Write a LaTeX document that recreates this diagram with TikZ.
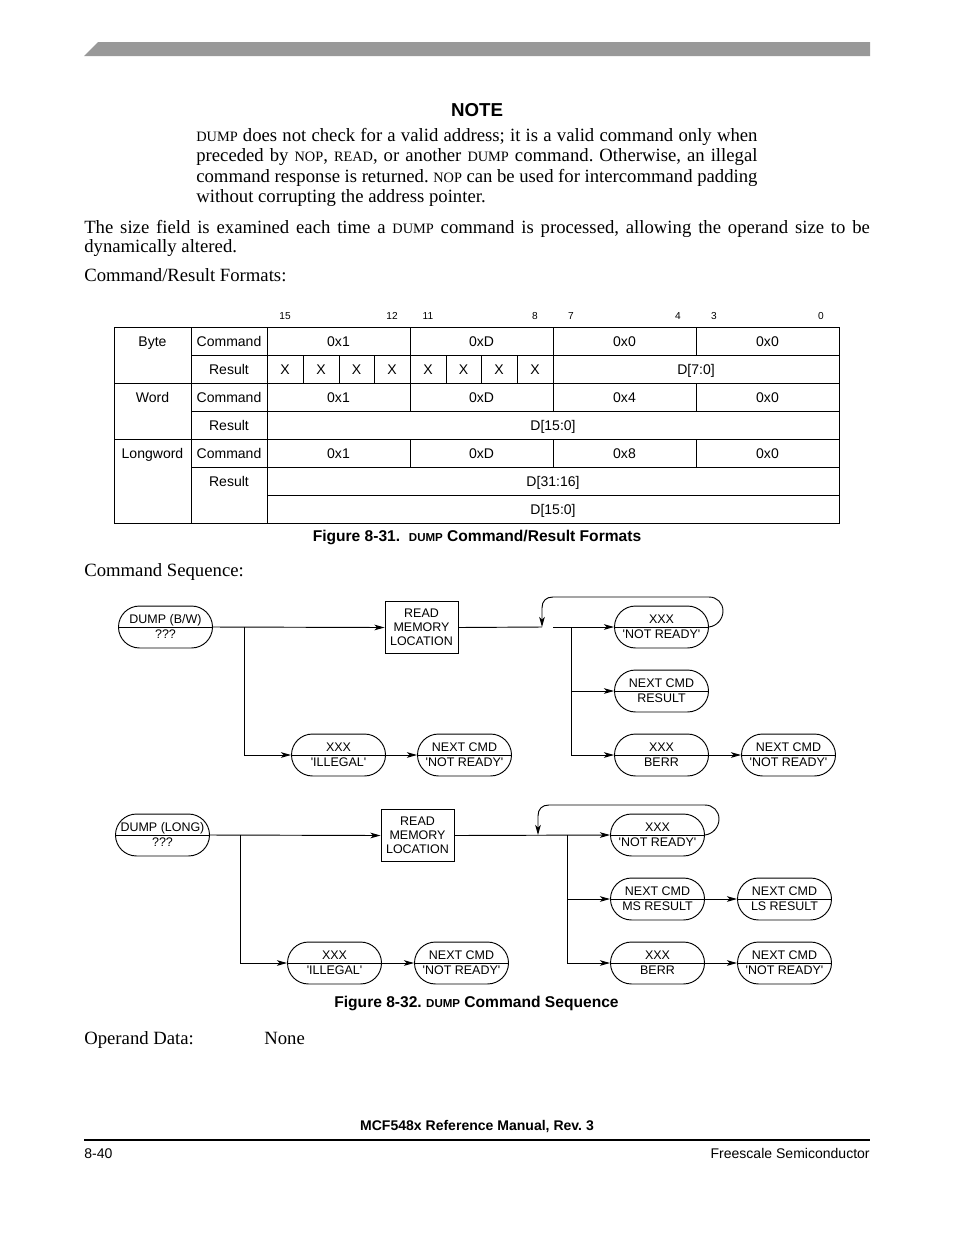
\documentclass[tikz,border=0pt]{standalone}
\usepackage{fontspec}
\setmainfont{Liberation Serif}
\newfontfamily\hv{Liberation Sans}
\usetikzlibrary{arrows.meta,calc}
\newcommand\smc[1]{{\fontsize{9.2}{10}\selectfont #1}}
\newcommand\bsmc[1]{{\fontsize{7.4}{9}\selectfont #1}}
\frenchspacing
\tikzset{
 ln/.style={line width=0.6pt},
 arr/.style={ln,-{Stealth[length=6.5pt,width=3.6pt,inset=1.8pt]}},
 ovalbox/.style={draw,line width=0.6pt,minimum width=60.3pt,minimum height=26.9pt,rounded corners=13.4pt,inner sep=0pt},
 rmlbox/.style={draw,line width=0.6pt,minimum width=46.8pt,minimum height=33.4pt,inner sep=0pt,align=center,font=\hv\fontsize{8}{9}\selectfont},
 dtext/.style={font=\hv\fontsize{8}{9}\selectfont,inner sep=0pt},
 ttext/.style={font=\hv\fontsize{9}{10}\selectfont,inner sep=0pt,anchor=base},
 bnum/.style={font=\hv\fontsize{6.5}{7}\selectfont,inner sep=0pt,anchor=base},
 body/.style={font=\fontsize{12}{13}\selectfont,inner sep=0pt,anchor=base west},
 captext/.style={font=\hv\bfseries\fontsize{10}{11}\selectfont,inner sep=0pt,anchor=base},
 foottext/.style={font=\hv\bfseries\fontsize{9}{10}\selectfont,inner sep=0pt,anchor=base},
}
\newcommand\ovalnode[5]{%
  \node[ovalbox] (#1) at (#2,#3) {};
  \draw[ln] (#1.west) -- (#1.east);
  \node[dtext,anchor=base] (#1-a) at (#2,#3-4) {#4};
  \node[dtext,anchor=base] (#1-b) at (#2,#3+11.5) {#5};
}
\begin{document}
\begin{tikzpicture}[x=0.6415pt,y=-0.6415pt]
\useasboundingbox (0,0) rectangle (954,1235);
% header bar
\fill[fill={rgb,255:red,153;green,153;blue,153}] (84,56) -- (98,42) -- (870,42) -- (870,56) -- cycle;
% note
\node[font=\hv\bfseries\fontsize{12}{14}\selectfont,inner sep=0pt,anchor=base] (note) at (477,116) {NOTE};
\node[body] (n1) at (196,141) {\makebox[360pt][s]{\smc{DUMP} does not check for a valid address; it is a valid command only when}};
\node[body] (n2) at (196,161.5) {\makebox[360pt][s]{preceded by \smc{NOP}, \smc{READ}, or another \smc{DUMP} command. Otherwise, an illegal}};
\node[body] (n3) at (196,182) {\makebox[360pt][s]{command response is returned. \smc{NOP} can be used for intercommand padding}};
\node[body] (n4) at (196,202) {without corrupting the address pointer.};
\node[body] (p1) at (84,233) {\makebox[504pt][s]{The size field is examined each time a \smc{DUMP} command is processed, allowing the operand size to be}};
\node[body] (p2) at (84,252.5) {dynamically altered.};
\node[body] (p3) at (84,281) {Command/Result Formats:};
% bit numbers
\foreach \x/\t in {285/15,392/12,428/11,535/8,571/7,678/4,714/3,821/0}
  \node[bnum] (bn\t) at (\x,319) {\t};
% table lines
\draw[ln] (114,327) rectangle (839,523);
\draw[ln] (191,327) -- (191,523);
\draw[ln] (267,327) -- (267,523);
\draw[ln] (114,383) -- (839,383);
\draw[ln] (114,439) -- (839,439);
\draw[ln] (191,355) -- (839,355);
\draw[ln] (191,411) -- (839,411);
\draw[ln] (191,467) -- (839,467);
\draw[ln] (267,495) -- (839,495);
\foreach \y in {327,383,439} {
  \draw[ln] (410,\y) -- (410,\y+28);
  \draw[ln] (553,\y) -- (553,\y+28);
  \draw[ln] (696,\y) -- (696,\y+28);
}
\foreach \x in {303,339,374,410,446,481,517,553}
  \draw[ln] (\x,355) -- (\x,383);
% table text
\node[ttext] (tbyte) at (152.5,346) {Byte};
\node[ttext] (tword) at (152.5,402) {Word};
\node[ttext] (tlong) at (152.5,458) {Longword};
\foreach \y/\n in {346/a,402/b,458/c} {
  \node[ttext] (cmd\n) at (229,\y) {Command};
  \node[ttext] (c1\n) at (338.5,\y) {0x1};
  \node[ttext] (c2\n) at (481.5,\y) {0xD};
  \node[ttext] (c4\n) at (767.5,\y) {0x0};
}
\node[ttext] (c3a) at (624.5,346) {0x0};
\node[ttext] (c3b) at (624.5,402) {0x4};
\node[ttext] (c3c) at (624.5,458) {0x8};
\foreach \y/\n in {374/a,430/b,486/c}
  \node[ttext] (res\n) at (229,\y) {Result};
\foreach \x [count=\i] in {285,321,356.5,392,428,463.5,499,535}
  \node[ttext] (xx\i) at (\x,374) {X};
\node[ttext] (d70) at (696,374) {D[7:0]};
\node[ttext] (d150a) at (553,430) {D[15:0]};
\node[ttext] (d3116) at (553,486) {D[31:16]};
\node[ttext] (d150b) at (553,514) {D[15:0]};
\node[captext] (cap31) at (477,541) {Figure 8-31.\ \ \bsmc{DUMP} Command/Result Formats};
\node[body] (p4) at (84,576) {Command Sequence:};
% ---------- diagram 1
\ovalnode{d1}{165.5}{627}{DUMP (B/W)}{???}
\node[rmlbox] (rml1) at (421.5,627.5) {READ\\MEMORY\\LOCATION};
\ovalnode{xnr1}{661.5}{627}{XXX}{\textquotesingle NOT READY'}
\ovalnode{res1}{661.5}{691}{NEXT CMD}{RESULT}
\ovalnode{berr1}{661.5}{755}{XXX}{BERR}
\ovalnode{nrr1}{788.5}{755}{NEXT CMD}{\textquotesingle NOT READY'}
\ovalnode{ill1}{338.5}{755}{XXX}{\textquotesingle ILLEGAL'}
\ovalnode{nr1}{464.5}{755}{NEXT CMD}{\textquotesingle NOT READY'}
\coordinate (b1) at (244,627);
\coordinate (g1) at (542,627);
\coordinate (g1b) at (553,627);
\coordinate (b1r) at (571,627);
\draw[arr] (d1.east) -- (rml1.west);
\draw[arr] (b1) |- (ill1.west);
\draw[arr] (ill1.east) -- (nr1.west);
\draw[ln] (rml1.east) -- (g1);
\draw[arr] (g1b) -- (xnr1.west);
\draw[arr] (b1r) |- (res1.west);
\draw[arr] (b1r) |- (berr1.west);
\draw[arr] (berr1.east) -- (nrr1.west);
\draw[arr] (xnr1.east) .. controls (717,626) and (723,619) .. (723,611)
   .. controls (723,603) and (717,597) .. (709,597) -- (553,597)
   .. controls (546,597) and (542,601) .. (542,608) -- (g1);
% ---------- diagram 2
\ovalnode{d2}{162.5}{835}{DUMP (LONG)}{???}
\node[rmlbox] (rml2) at (417.5,835.5) {READ\\MEMORY\\LOCATION};
\ovalnode{xnr2}{657.5}{835}{XXX}{\textquotesingle NOT READY'}
\ovalnode{ms2}{657.5}{899}{NEXT CMD}{MS RESULT}
\ovalnode{ls2}{784.5}{899}{NEXT CMD}{LS RESULT}
\ovalnode{berr2}{657.5}{963}{XXX}{BERR}
\ovalnode{nrr2}{784.5}{963}{NEXT CMD}{\textquotesingle NOT READY'}
\ovalnode{ill2}{334.5}{963}{XXX}{\textquotesingle ILLEGAL'}
\ovalnode{nr2}{461.5}{963}{NEXT CMD}{\textquotesingle NOT READY'}
\coordinate (b2) at (240,835);
\coordinate (g2) at (538,835);
\coordinate (b2r) at (567,835);
\draw[arr] (d2.east) -- (rml2.west);
\draw[arr] (b2) |- (ill2.west);
\draw[arr] (ill2.east) -- (nr2.west);
\draw[arr] (rml2.east) -- (xnr2.west);
\draw[arr] (b2r) |- (ms2.west);
\draw[arr] (ms2.east) -- (ls2.west);
\draw[arr] (b2r) |- (berr2.west);
\draw[arr] (berr2.east) -- (nrr2.west);
\draw[arr] (xnr2.east) .. controls (713,834) and (719,827) .. (719,819)
   .. controls (719,811) and (713,805) .. (705,805) -- (549,805)
   .. controls (542,805) and (538,809) .. (538,816) -- (g2);
\node[captext] (cap32) at (476.5,1007) {Figure 8-32. \bsmc{DUMP} Command Sequence};
% operand
\node[body] (op1) at (84,1044) {Operand Data:};
\node[body] (op2) at (264,1044) {None};
% footer
\node[foottext] (foot) at (477,1130) {MCF548x Reference Manual, Rev. 3};
\draw[line width=0.7pt] (84,1140) -- (870,1140);
\node[font=\hv\fontsize{9}{10}\selectfont,inner sep=0pt,anchor=base west] (pg) at (84,1158) {8-40};
\node[font=\hv\fontsize{9}{10}\selectfont,inner sep=0pt,anchor=base east] (fs) at (870,1158) {Freescale Semiconductor};
\end{tikzpicture}
\end{document}
